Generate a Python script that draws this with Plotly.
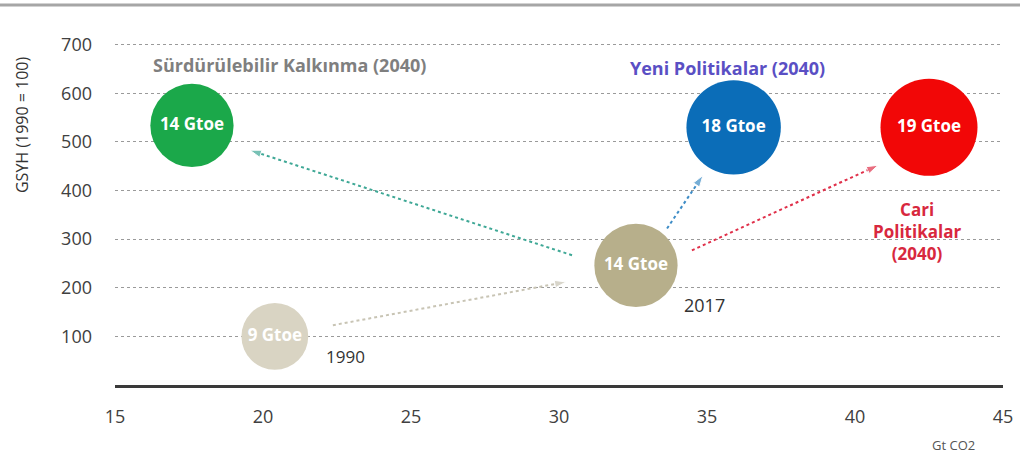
import plotly.graph_objects as go

# bubbles: Gt CO2 (x), GSYH index (y), energy demand (Gtoe)
bubble_x = [20.4, 32.6, 17.6, 35.9, 42.5]
bubble_y = [100, 246, 534, 530, 530]
bubble_gtoe = [9, 14, 14, 18, 19]
bubble_text = ["9 Gtoe", "14 Gtoe", "14 Gtoe", "18 Gtoe", "19 Gtoe"]
bubble_colors = ["#D9D4C3", "#B7AF8B", "#1BA84A", "#0B6DB8", "#F20707"]

# dotted arrows: (x0, y0) -> (x1, y1)
arrow_x0 = [22.36, 30.44, 33.65, 34.49]
arrow_y0 = [123, 267, 322, 277]
arrow_x1 = [30.24, 19.56, 34.86, 40.78]
arrow_y1 = [212, 483, 431, 452]
arrow_colors = ["#C8C4B4", "#3FA896", "#3D8CC6", "#E0304A"]

# scenario / year labels
label_text = [
    "<b>Sürdürülebilir Kalkınma (2040)</b>",
    "<b>Yeni Politikalar (2040)</b>",
    "<b>Cari<br>Politikalar<br>(2040)</b>",
    "2017",
    "1990",
]
label_x = [20.9, 35.7, 42.1, 34.9, 22.8]
label_y = [658, 652, 315, 165, 58]
label_colors = ["#7F7F7F", "#5A4FC4", "#D8283E", "#333333", "#333333"]
label_sizes = [18, 18, 17, 18, 17]

y_ticks = [100, 200, 300, 400, 500, 600, 700]
x_ticks = [15, 20, 25, 30, 35, 40, 45]

FONT = "Open Sans"

fig = go.Figure()

for i in range(len(arrow_x0)):
    fig.add_trace(
        go.Scatter(
            x=[arrow_x0[i], arrow_x1[i]],
            y=[arrow_y0[i], arrow_y1[i]],
            mode="lines+markers",
            line=dict(color=arrow_colors[i], width=2, dash="dot"),
            marker=dict(
                symbol="arrow",
                angleref="previous",
                size=[0, 12],
                color=arrow_colors[i],
            ),
            hoverinfo="skip",
            showlegend=False,
        )
    )

fig.add_trace(
    go.Scatter(
        x=bubble_x,
        y=bubble_y,
        mode="markers+text",
        text=[f"<b>{t}</b>" for t in bubble_text],
        textposition="middle center",
        textfont=dict(family=FONT, size=17, color="white"),
        marker=dict(
            size=bubble_gtoe,
            sizemode="area",
            sizeref=2 * max(bubble_gtoe) / 97**2,
            color=bubble_colors,
            line=dict(width=0),
            opacity=1,
        ),
        showlegend=False,
    )
)

for t, x, y, c, s in zip(label_text, label_x, label_y, label_colors, label_sizes):
    fig.add_annotation(
        x=x, y=y, text=t, showarrow=False,
        font=dict(family=FONT, size=s, color=c),
    )

fig.add_annotation(
    xref="paper", yref="paper", x=-0.105, y=0.745,
    xanchor="center", yanchor="middle",
    text="GSYH (1990 = 100)", textangle=-90, showarrow=False,
    font=dict(family=FONT, size=16, color="#333333"),
)
fig.add_annotation(
    xref="paper", yref="paper", x=0.944, y=-0.171,
    xanchor="center", yanchor="middle",
    text="Gt CO2", showarrow=False,
    font=dict(family=FONT, size=13, color="#555555"),
)

fig.add_shape(
    type="line", xref="paper", yref="paper",
    x0=-0.13, x1=1.02, y0=1.0857, y1=1.0857,
    line=dict(color="#A6A6A6", width=3),
)

fig.update_layout(
    width=1020,
    height=457,
    margin=dict(l=115, r=17, t=35, b=72, autoexpand=False),
    paper_bgcolor="white",
    plot_bgcolor="white",
    font=dict(family=FONT, color="#404040"),
    xaxis=dict(
        range=[15, 45],
        tickvals=x_ticks,
        showgrid=False,
        zeroline=False,
        showline=True,
        linecolor="#3A3A3A",
        linewidth=2.5,
        ticks="",
        automargin=False,
        ticklabelstandoff=14,
        tickfont=dict(size=18, color="#404040"),
    ),
    yaxis=dict(
        range=[0, 720],
        tickvals=y_ticks,
        showgrid=True,
        gridcolor="#9A9A9A",
        griddash="dot",
        gridwidth=1,
        zeroline=False,
        showline=False,
        ticks="",
        automargin=False,
        ticklabelstandoff=22,
        tickfont=dict(size=18, color="#404040"),
    ),
)

# the page body has a default 8px margin; drop it so the figure fills the window
fig.write_html(
    "out.html",
    config={"displayModeBar": False},
    post_script="document.body.style.margin = '0';",
)
